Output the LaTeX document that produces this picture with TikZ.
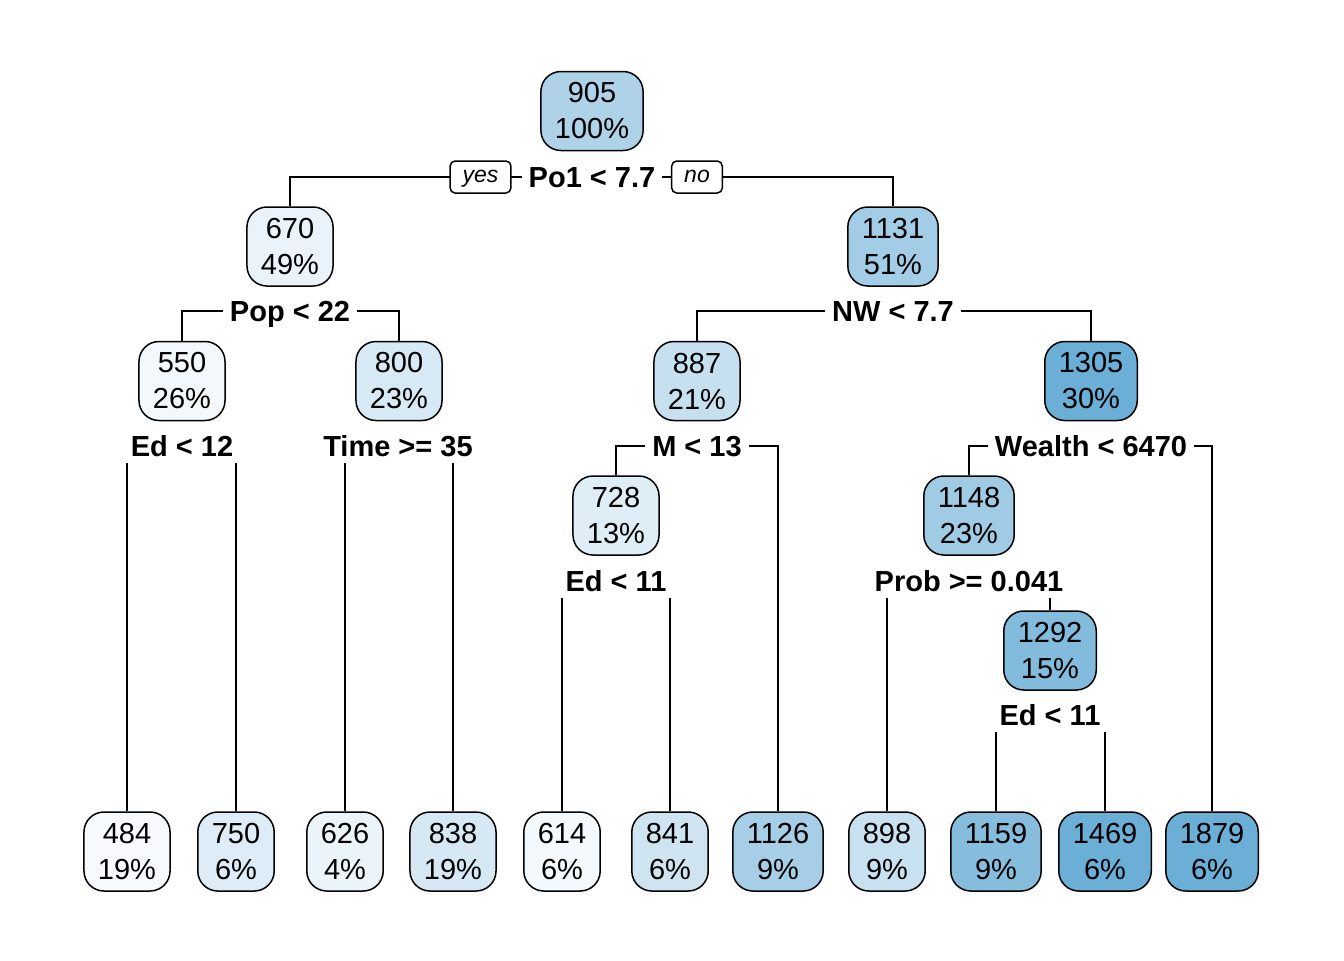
\documentclass[tikz,border=0pt]{standalone}
\usepackage{fontspec}
\setmainfont{Liberation Sans}
\usepackage{xcolor}
\usepackage{tikz}
\usetikzlibrary{backgrounds}
\definecolor{blu}{HTML}{6BAED6}

\begin{document}
\begin{tikzpicture}[
        x=0.5pt, y=-0.5pt,
        box/.style={rectangle, draw, line width=0.75pt, rounded corners=10pt, minimum height=39.5pt, inner xsep=7pt, align=center, font=\fontsize{14.5}{18}\selectfont},
        splitlbl/.style={fill=white, inner xsep=3.5pt, inner ysep=0pt, minimum height=17pt, text height=10.5pt, text depth=0pt, font=\fontsize{14.5}{17}\selectfont\bfseries},
        tag/.style={rectangle, draw, fill=white, line width=0.75pt, rounded corners=2.5pt, inner xsep=6.25pt, inner ysep=0pt, minimum height=16pt, text height=7.5pt, text depth=2.2pt, font=\fontsize{11.5}{13}\selectfont\itshape},
        link/.style={line width=0.75pt}
    ]
        \useasboundingbox (0,0) rectangle (1344,960);

        % Inner nodes
        \node[box, fill=blu!55] (n905) at (592,111) {905\\100\%};
        \node[box, fill=blu!15] (n670) at (290,246.5) {670\\49\%};
        \node[box, fill=blu!62] (n1131) at (893,246.5) {1131\\51\%};
        \node[box, fill=blu!9] (n550) at (182,381) {550\\26\%};
        \node[box, fill=blu!27] (n800) at (399,381) {800\\23\%};
        \node[box, fill=blu!38] (n887) at (697,381) {887\\21\%};
        \node[box, fill=blu] (n1305) at (1091,381) {1305\\30\%};
        \node[box, fill=blu!22] (n728) at (616,515.5) {728\\13\%};
        \node[box, fill=blu!64] (n1148) at (969,515.5) {1148\\23\%};
        \node[box, fill=blu!84] (n1292) at (1050,650.5) {1292\\15\%};

        % Leaves
        \node[box, fill=blu!6] (n484) at (127,851.5) {484\\19\%};
        \node[box, fill=blu!23] (n750) at (236,851.5) {750\\6\%};
        \node[box, fill=blu!14] (n626) at (345,851.5) {626\\4\%};
        \node[box, fill=blu!28] (n838) at (453,851.5) {838\\19\%};
        \node[box, fill=blu!8] (n614) at (562,851.5) {614\\6\%};
        \node[box, fill=blu!33] (n841) at (670,851.5) {841\\6\%};
        \node[box, fill=blu!60] (n1126) at (778,851.5) {1126\\9\%};
        \node[box, fill=blu!37] (n898) at (887,851.5) {898\\9\%};
        \node[box, fill=blu!82] (n1159) at (996,851.5) {1159\\9\%};
        \node[box, fill=blu] (n1469) at (1105,851.5) {1469\\6\%};
        \node[box, fill=blu] (n1879) at (1212,851.5) {1879\\6\%};

        % Split labels
        \node[splitlbl] (po1) at (592,177) {Po1 < 7.7};
        \node[tag] (yes) at (480.5,177) {yes};
        \node[tag] (no) at (697,177) {no};
        \node[splitlbl] (pop) at (290,311) {Pop < 22};
        \node[splitlbl] (nw) at (893,311) {NW < 7.7};
        \node[splitlbl] (ed12) at (182,446) {Ed < 12};
        \node[splitlbl] (time) at (398,446) {Time >= 35};
        \node[splitlbl] (m13) at (697,446) {M < 13};
        \node[splitlbl] (wealth) at (1091,446) {Wealth < 6470};
        \node[splitlbl] (ed11a) at (616,581) {Ed < 11};
        \node[splitlbl] (prob) at (969,581) {Prob >= 0.041};
        \node[splitlbl] (ed11b) at (1050,715) {Ed < 11};

        % Branches
        \begin{scope}[on background layer]
            \fill[white] (0,0) rectangle (1344,960);
            \draw[link] (n670.north) |- (po1.center) -| (n1131.north);
            \draw[link] (n550.north) |- (pop.center) -| (n800.north);
            \draw[link] (n887.north) |- (nw.center) -| (n1305.north);
            \draw[link] (n484.north) |- (ed12.center) -| (n750.north);
            \draw[link] (n626.north) |- (time.center) -| (n838.north);
            \draw[link] (n728.north) |- (m13.center) -| (n1126.north);
            \draw[link] (n1148.north) |- (wealth.center) -| (n1879.north);
            \draw[link] (n614.north) |- (ed11a.center) -| (n841.north);
            \draw[link] (n898.north) |- (prob.center) -| (n1292.north);
            \draw[link] (n1159.north) |- (ed11b.center) -| (n1469.north);
        \end{scope}
    \end{tikzpicture}
\end{document}
